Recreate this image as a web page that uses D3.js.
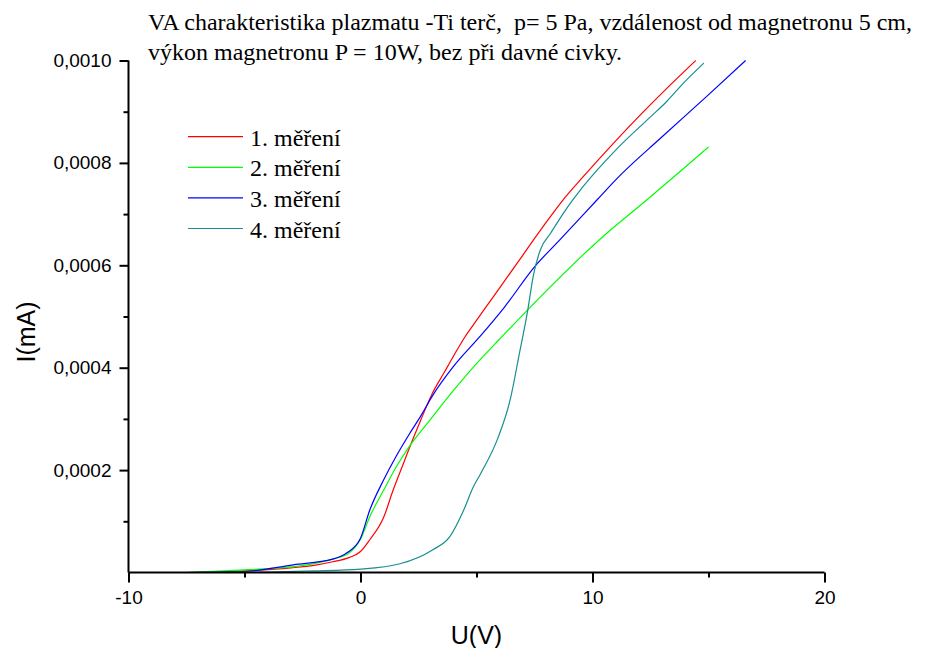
<!DOCTYPE html>
<html>
<head>
<meta charset="utf-8">
<script src="https://cdn.jsdelivr.net/npm/d3@7"></script>
<style>
  html, body { margin: 0; padding: 0; background: #fff; }
  svg { display: block; }
</style>
</head>
<body>
<script>
// ---- data ----
const titleLines = [
  "VA charakteristika plazmatu -Ti terč,  p= 5 Pa, vzdálenost od magnetronu 5 cm,",
  "výkon magnetronu P = 10W, bez při davné civky."
];
const seriesNames = ["1. měření", "2. měření", "3. měření", "4. měření"];
const seriesColors = ["#ff0000", "#00ff00", "#0000ff", "#178f8f"];

const u1 = [-7.5, -5, -3, -2, -1.2, -0.5, 0, 0.4, 1.0, 1.4, 1.85, 2.3, 2.6, 3.1, 3.6, 4.0, 4.5, 4.9, 5.7, 6.8, 7.2, 8.2, 8.7, 9.6, 11.0, 12.2, 13.3, 14.45];
const i1 = [0, 3e-6, 9e-6, 1.4e-5, 2.1e-5, 2.9e-5, 4.1e-5, 6.4e-5, 1.08e-4, 1.6e-4, 2.13e-4, 2.65e-4, 2.98e-4, 3.5e-4, 3.9e-4, 4.22e-4, 4.6e-4, 4.86e-4, 5.37e-4, 6.07e-4, 6.33e-4, 6.96e-4, 7.26e-4, 7.73e-4, 8.43e-4, 9.0e-4, 9.5e-4, 1.0e-3];

const u2 = [-7.5, -5.5, -2.6, -1.2, -0.5, 0, 0.4, 1.0, 1.55, 2.1, 3.0, 4.0, 5.0, 6.0, 7.7, 10.3, 12.4, 13.9, 15.0];
const i2 = [0, 4e-6, 1.3e-5, 2.6e-5, 3.8e-5, 6.5e-5, 1.09e-4, 1.61e-4, 2.07e-4, 2.46e-4, 2.98e-4, 3.55e-4, 4.08e-4, 4.56e-4, 5.36e-4, 6.5e-4, 7.3e-4, 7.88e-4, 8.31e-4];

const u3 = [-7.5, -5, -2.9, -1.2, -0.6, 0, 0.4, 1.0, 1.55, 2.1, 2.6, 3.1, 4.0, 5.15, 6.2, 7.5, 8.6, 10.2, 11.0, 13.0, 14.9, 16.6];
const i3 = [0, 2e-6, 1.5e-5, 2.6e-5, 3.8e-5, 6.7e-5, 1.22e-4, 1.81e-4, 2.28e-4, 2.7e-4, 3.06e-4, 3.45e-4, 4.02e-4, 4.61e-4, 5.18e-4, 5.97e-4, 6.5e-4, 7.28e-4, 7.67e-4, 8.51e-4, 9.29e-4, 1.0e-3];

const u4 = [-7.5, -4, -2, 0, 1.7, 3.1, 3.85, 4.45, 4.85, 5.2, 5.9, 6.45, 6.85, 7.2, 7.45, 7.75, 8.2, 8.75, 9.6, 11.0, 12.5, 13.2, 13.9, 14.8];
const i4 = [0, 1e-6, 3e-6, 6.5e-6, 1.7e-5, 4.4e-5, 7e-5, 1.22e-4, 1.66e-4, 1.95e-4, 2.6e-4, 3.37e-4, 4.28e-4, 5.1e-4, 5.8e-4, 6.3e-4, 6.63e-4, 7.02e-4, 7.54e-4, 8.25e-4, 8.9e-4, 9.2e-4, 9.55e-4, 9.95e-4];

const xMajorTicks = [-10, 0, 10, 20];
const xMinorTicks = [-5, 5, 15];
const yMajorTicks = [0.0002, 0.0004, 0.0006, 0.0008, 0.0010];
const yMinorTicks = [0.0001, 0.0003, 0.0005, 0.0007, 0.0009];
const xLabel = "U(V)";
const yLabel = "I(mA)";

// ---- chart ----
const W = 928, H = 648;
const svg = d3.select("body").append("svg").attr("width", W).attr("height", H);

const x = d3.scaleLinear().domain([-10, 20]).range([128.5, 824.5]);
const y = d3.scaleLinear().domain([0, 0.001]).range([572.5, 60.5]);

const sans = "'Liberation Sans', Arial, sans-serif";
const serif = "'Liberation Serif', 'Times New Roman', serif";
const fmt = d => d3.format(".4f")(d).replace(".", ",");

// curves
const series = [[u1, i1], [u2, i2], [u3, i3], [u4, i4]];
const line = d3.line().x(d => x(d[0])).y(d => y(d[1])).curve(d3.curveMonotoneX);
series.forEach((s, k) => {
  const pts = s[0].map((u, j) => [u, s[1][j]]);
  svg.append("path").datum(pts)
    .attr("d", line)
    .attr("fill", "none")
    .attr("stroke", seriesColors[k])
    .attr("stroke-width", 1.2);
});

// x axis
const gx = svg.append("g").attr("transform", `translate(0,${y(0)})`)
  .call(d3.axisBottom(x).tickValues(xMajorTicks).tickSize(10).tickPadding(8).tickFormat(d => String(d)));
svg.append("g").attr("transform", `translate(0,${y(0)})`)
  .call(d3.axisBottom(x).tickValues(xMinorTicks).tickSize(5).tickFormat(""))
  .select(".domain").remove();

// y axis
const gy = svg.append("g").attr("transform", `translate(${x(-10)},0)`)
  .call(d3.axisLeft(y).tickValues(yMajorTicks).tickSize(9).tickPadding(8).tickFormat(fmt));
svg.append("g").attr("transform", `translate(${x(-10)},0)`)
  .call(d3.axisLeft(y).tickValues(yMinorTicks).tickSize(5).tickFormat(""))
  .select(".domain").remove();

svg.selectAll(".domain").attr("stroke", "#000").attr("stroke-width", 2);
svg.selectAll(".tick line").attr("stroke", "#000").attr("stroke-width", 2);
svg.selectAll(".tick text").attr("fill", "#000").style("font-family", sans).style("font-size", "19px");
gx.selectAll(".domain").attr("d", `M${x(-10)},0H${x(20)}`);
gy.selectAll(".domain").attr("d", `M0,${y(0)}V${y(0.001)}`);

// axis labels
svg.append("text").attr("x", (x(-10) + x(20)) / 2).attr("y", 644)
  .attr("text-anchor", "middle").style("font-family", sans).style("font-size", "25px").text(xLabel);
svg.append("text").attr("transform", "translate(35,332) rotate(-90)")
  .attr("text-anchor", "middle").style("font-family", sans).style("font-size", "25px").text(yLabel);

// title
titleLines.forEach((t, k) => {
  svg.append("text").attr("x", 148).attr("y", 30 + k * 29.5)
    .style("font-family", serif).style("font-size", "24px").attr("fill", "#000")
    .style("white-space", "pre").attr("xml:space", "preserve").text(t);
});

// legend
seriesNames.forEach((n, k) => {
  const ly = 136.7 + k * 30.6;
  svg.append("line").attr("x1", 188).attr("x2", 243).attr("y1", ly).attr("y2", ly)
    .attr("stroke", seriesColors[k]).attr("stroke-width", 1.2);
  svg.append("text").attr("x", 250).attr("y", ly + 9)
    .style("font-family", serif).style("font-size", "24px").attr("fill", "#000").text(n);
});
</script>
</body>
</html>
